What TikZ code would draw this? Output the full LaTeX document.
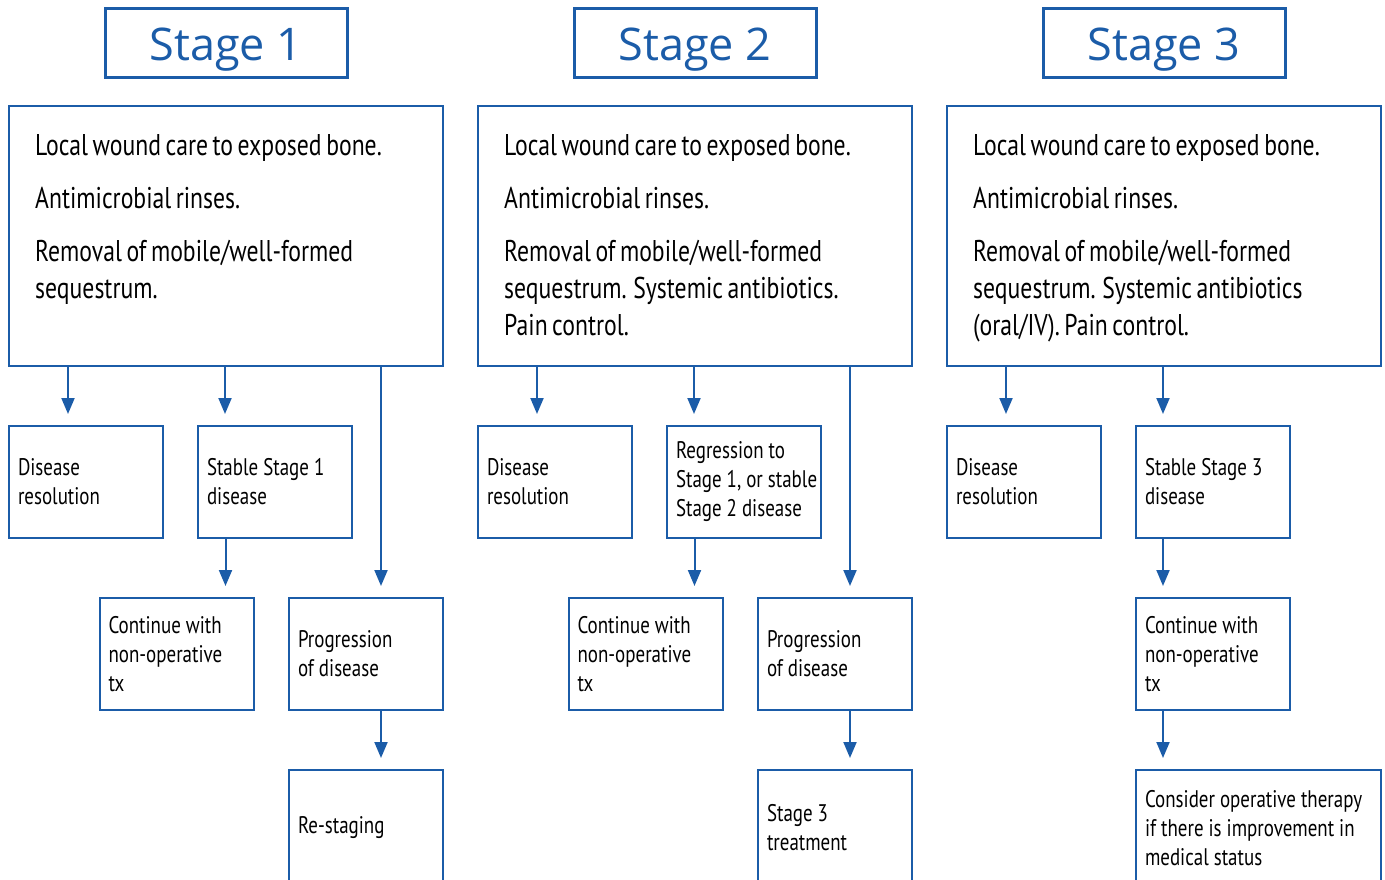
\documentclass[tikz,border=0pt]{standalone}
\usepackage{fontspec}
\setmainfont{PT Sans}[FakeStretch=0.79, WordSpace=0.72, Numbers=Proportional]
\newfontfamily\hdrfont{Open Sans}
\usetikzlibrary{arrows.meta}
\definecolor{sblue}{HTML}{1B5CA8}
\newcommand\ls{\spaceskip=5pt plus 1pt minus 1pt\relax\xspaceskip=5pt\relax\hspace*{2pt}}
\begin{document}
\begin{tikzpicture}[x=1pt,y=-1pt,
  hdr/.style={draw=sblue, line width=3pt, minimum width=242pt, minimum height=69pt, inner sep=0pt, text=sblue, font=\hdrfont\fontsize{45}{54}\selectfont},
  big/.style={draw=sblue, line width=2pt, minimum width=434pt, minimum height=260pt, inner sep=0pt},
  bigtxt/.style={anchor=north west, inner sep=0pt, align=left, font=\fontsize{30}{37}\selectfont},
  sbox/.style={draw=sblue, line width=2pt, minimum height=112pt, text width=140pt, inner xsep=7pt, align=left, font=\fontsize{24}{29}\selectfont},
  arr/.style={draw=sblue, line width=2pt, -{Triangle[width=13pt,length=16pt]}, shorten >=11pt}]
\useasboundingbox (0,0) rectangle (1385,880);
\clip (0,0) rectangle (1385,880);
% ---------- column 1
\node[hdr] (H1) at (226,43.5) {\raisebox{-17.5pt}[0pt][0pt]{Stage 1}};
\node[big] (big1) at (226,236) {};
\node[bigtxt] (T1) at (35,134) {Local wound care to exposed bone.\\[16pt]Antimicrobial rinses.\\[16pt]Removal of mobile/well-formed\\sequestrum.};
\node[sbox] (A1) at (86,482) {\ls Disease\\\ls resolution};
\node[sbox] (B1) at (275,482) {\ls Stable Stage 1\\\ls disease};
\node[sbox] (C1) at (176.5,654) {\ls Continue with\\\ls non-operative\\\ls tx};
\node[sbox] (D1) at (366,654) {\ls Progression\\\ls of disease};
\node[sbox, minimum height=116pt] (E1) at (366,828) {\ls Re-staging};
\coordinate (a1) at ([xshift=60pt]A1.north west);
\coordinate (b1) at ([xshift=28pt]B1.north west);
\coordinate (c1) at ([xshift=127pt]C1.north west);
\coordinate (d1) at ([xshift=93pt]D1.north west);
\coordinate (e1) at ([xshift=93pt]E1.north west);
\draw[arr] (a1 |- big1.south) -- (a1);
\draw[arr] (b1 |- big1.south) -- (b1);
\draw[arr] (d1 |- big1.south) -- (d1);
\draw[arr] (c1 |- B1.south) -- (c1);
\draw[arr] (e1 |- D1.south) -- (e1);
% ---------- column 2
\node[hdr] (H2) at (695,43.5) {\raisebox{-17.5pt}[0pt][0pt]{Stage 2}};
\node[big] (big2) at (695,236) {};
\node[bigtxt] (T2) at (504,134) {Local wound care to exposed bone.\\[16pt]Antimicrobial rinses.\\[16pt]Removal of mobile/well-formed\\sequestrum. Systemic antibiotics.\\Pain control.};
\node[sbox] (A2) at (555,482) {\ls Disease\\\ls resolution};
\node[sbox] (B2) at (744,482) {\ls Regression to\\\ls\mbox{Stage 1, or stable}\\\ls Stage 2 disease};
\node[sbox] (C2) at (645.5,654) {\ls Continue with\\\ls non-operative\\\ls tx};
\node[sbox] (D2) at (835,654) {\ls Progression\\\ls of disease};
\node[sbox, minimum height=116pt] (E2) at (835,828) {\ls Stage 3\\\ls treatment};
\coordinate (a2) at ([xshift=60pt]A2.north west);
\coordinate (b2) at ([xshift=28pt]B2.north west);
\coordinate (c2) at ([xshift=127pt]C2.north west);
\coordinate (d2) at ([xshift=93pt]D2.north west);
\coordinate (e2) at ([xshift=93pt]E2.north west);
\draw[arr] (a2 |- big2.south) -- (a2);
\draw[arr] (b2 |- big2.south) -- (b2);
\draw[arr] (d2 |- big2.south) -- (d2);
\draw[arr] (c2 |- B2.south) -- (c2);
\draw[arr] (e2 |- D2.south) -- (e2);
% ---------- column 3
\node[hdr] (H3) at (1164,43.5) {\raisebox{-17.5pt}[0pt][0pt]{Stage 3}};
\node[big] (big3) at (1164,236) {};
\node[bigtxt] (T3) at (973,134) {Local wound care to exposed bone.\\[16pt]Antimicrobial rinses.\\[16pt]Removal of mobile/well-formed\\sequestrum. Systemic antibiotics\\(oral/IV). Pain control.};
\node[sbox] (A3) at (1024,482) {\ls Disease\\\ls resolution};
\node[sbox] (B3) at (1213,482) {\ls Stable Stage 3\\\ls disease};
\node[sbox] (C3) at (1213,654) {\ls Continue with\\\ls non-operative\\\ls tx};
\node[sbox, minimum height=116pt, text width=231pt] (E3) at (1258.5,828) {\ls Consider operative therapy\\\ls if there is improvement in\\\ls medical status};
\coordinate (a3) at ([xshift=60pt]A3.north west);
\coordinate (b3) at ([xshift=28pt]B3.north west);
\coordinate (c3) at ([xshift=28pt]C3.north west);
\coordinate (e3) at ([xshift=28pt]E3.north west);
\draw[arr] (a3 |- big3.south) -- (a3);
\draw[arr] (b3 |- big3.south) -- (b3);
\draw[arr] (c3 |- B3.south) -- (c3);
\draw[arr] (e3 |- C3.south) -- (e3);
\end{tikzpicture}
\end{document}
